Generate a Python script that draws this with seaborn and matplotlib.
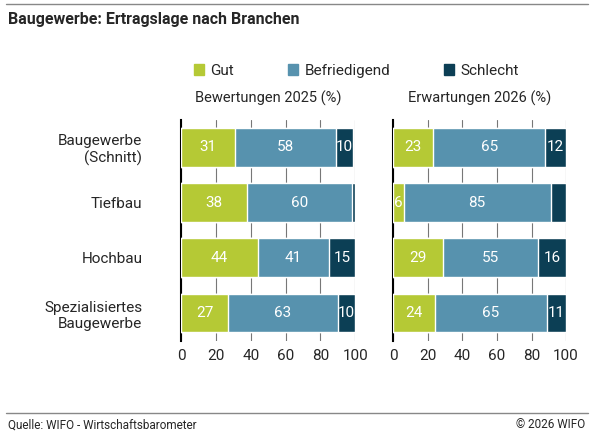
import numpy as np
import pandas as pd
import matplotlib.pyplot as plt
import seaborn as sns

sns.set_style("white")
plt.rcParams['font.family'] = ['Roboto', 'DejaVu Sans']

branchen = ['Baugewerbe\n(Schnitt)', 'Tiefbau', 'Hochbau', 'Spezialisiertes\nBaugewerbe']
gut_2025 = [31, 38, 44, 27]
befr_2025 = [58, 60, 41, 63]
schlecht_2025 = [10, 2, 15, 10]
gut_2026 = [23, 6, 29, 24]
befr_2026 = [65, 85, 55, 65]
schlecht_2026 = [12, 9, 16, 11]

colors = {'Gut': '#b5c935', 'Befriedigend': '#5792ae', 'Schlecht': '#0c3f55'}

fig = plt.figure(figsize=(5.94, 4.38), dpi=100)
ax1 = fig.add_axes([0.305, 0.222, 0.293, 0.505])
ax2 = fig.add_axes([0.662, 0.222, 0.291, 0.505])

def draw(ax, gut, befr, schl, title):
    df = pd.DataFrame({'b': branchen, 'Gut': gut, 'Befriedigend': befr, 'Schlecht': schl})
    c1 = df['Gut']
    c2 = c1 + df['Befriedigend']
    c3 = c2 + df['Schlecht']
    for cum, name in [(c3, 'Schlecht'), (c2, 'Befriedigend'), (c1, 'Gut')]:
        sns.barplot(x=cum, y=df['b'], color=colors[name], orient='h', width=0.7,
                    saturation=1, ax=ax, zorder=3)
    for i in range(len(df)):
        starts = [0, c1[i], c2[i]]
        mins = [5, 5, 10]
        for v, s, m in zip([gut[i], befr[i], schl[i]], starts, mins):
            if v >= m:
                ax.text(s + v / 2, i, str(v), ha='center', va='center', color='white',
                        fontsize=11, zorder=4)
    ax.set_xlim(0, 100)
    ax.set_xticks(range(0, 101, 20))
    ax.grid(axis='x', color='#777777', lw=0.8, zorder=0)
    ax.set_xlabel('')
    ax.set_ylabel('')
    for s in ['top', 'right', 'bottom']:
        ax.spines[s].set_visible(False)
    ax.spines['left'].set_color('black')
    ax.spines['left'].set_linewidth(1.5)
    ax.tick_params(axis='x', labelsize=11, length=0, pad=6)
    ax.tick_params(axis='y', labelsize=11, length=0, pad=28)
    ax.set_title(title, fontsize=10.5, pad=12)

draw(ax1, gut_2025, befr_2025, schlecht_2025, 'Bewertungen 2025 (%)')
draw(ax2, gut_2026, befr_2026, schlecht_2026, 'Erwartungen 2026 (%)')
ax2.set_yticklabels([])

handles = [plt.Rectangle((0, 0), 1, 1, color=colors[k]) for k in colors]
fig.legend(handles, list(colors), loc='center', bbox_to_anchor=(0.6, 0.838), ncol=3, frameon=False,
           fontsize=11, handlelength=0.7, handleheight=0.7, handletextpad=0.4, columnspacing=3.5)

fig.text(0.013, 0.945, 'Baugewerbe: Ertragslage nach Branchen', fontsize=11.5, fontweight='bold')
fig.add_artist(plt.Line2D([0.01, 0.99], [0.99, 0.99], color='#888888', lw=1))
fig.add_artist(plt.Line2D([0.01, 0.99], [0.058, 0.058], color='#888888', lw=1))
fig.text(0.013, 0.022, 'Quelle: WIFO - Wirtschaftsbarometer', fontsize=8.5)
fig.text(0.985, 0.022, '© 2026 WIFO', fontsize=8.5, ha='right')

fig.savefig('out.png', dpi=100)
